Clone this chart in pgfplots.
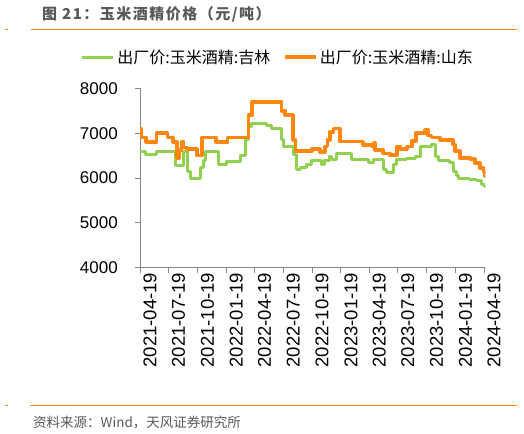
\documentclass[border=0pt]{standalone}
\usepackage{fontspec}
\setmainfont{Liberation Sans}
\newfontfamily\cjk{Noto Sans CJK SC}
\newfontfamily\cjktitle[LetterSpace=10]{Noto Sans CJK SC}
\usepackage{pgfplots}
\usepackage{pgfplotstable}
\pgfplotsset{compat=1.18}

\definecolor{jlgreen}{RGB}{146,208,80}
\definecolor{sdorange}{RGB}{255,135,15}
\definecolor{titlegray}{RGB}{89,89,89}
\definecolor{axisgray}{RGB}{134,134,134}

% day = days since 2021-04-19
\pgfplotstableread{
day price
0 6600
16 6530
53 6600
112 6280
139 6590
150 6150
160 6000
192 6230
202 6400
210 6600
250 6290
276 6360
319 6510
335 6850
345 7150
356 7220
404 7180
420 7100
451 6850
457 6700
488 6530
499 6180
510 6230
531 6300
547 6400
579 6300
589 6400
605 6490
610 6420
626 6550
674 6420
727 6340
743 6420
775 6180
784 6120
807 6300
818 6420
850 6440
879 6470
892 6700
929 6740
940 6480
950 6380
987 6350
998 6140
1008 6050
1014 5990
1051 5970
1072 5940
1088 5850
1096 5800
1100 5780
}\jilin

\pgfplotstableread{
day price
0 7100
3 6900
19 6800
53 7000
88 6900
106 6800
118 6450
125 6620
132 6800
139 6680
150 6640
182 6500
198 6900
242 6800
279 6900
345 7400
356 7700
451 7500
462 7400
488 6850
495 6600
547 6640
573 6580
589 6700
597 6850
605 7030
616 7100
637 6810
711 6740
738 6700
745 6780
749 6620
775 6550
796 6510
818 6700
828 6640
850 6700
866 6830
879 7000
908 7070
918 6950
929 6900
956 6850
998 6750
1003 6600
1019 6450
1051 6420
1067 6330
1083 6220
1094 6150
1098 6030
1100 6030
}\shandong

\begin{document}
\begin{tikzpicture}
\fill[white] (0,0) rectangle (524bp,-434bp);
\useasboundingbox (0,0) rectangle (524bp,-434bp);

% title and rules
\node[anchor=west, inner sep=0pt, text=titlegray,
      font=\cjktitle\bfseries\fontsize{15bp}{18bp}\selectfont]
  at (42bp,-14.2bp) {图 21：玉米酒精价格（元/吨）};
\draw[sdorange, line width=1.2bp] (30.5bp,-29.3bp) -- (516.7bp,-29.3bp);
\draw[sdorange, line width=1.2bp] (5bp,-29.3bp) -- (7.5bp,-29.3bp);
\draw[sdorange, line width=1.2bp] (30bp,-405.7bp) -- (516.7bp,-405.7bp);
\draw[sdorange, line width=1.2bp] (5bp,-405.7bp) -- (7.5bp,-405.7bp);
\node[anchor=west, inner sep=0pt, text=titlegray,
      font=\cjk\fontsize{13.5bp}{16bp}\selectfont]
  at (33bp,-422.7bp) {资料来源：Wind，天风证券研究所};

\begin{axis}[
    at={(140bp,-267.7bp)}, anchor=south west,
    scale only axis,
    width=345.3bp, height=179.4bp,
    xmin=0, xmax=1100,
    ymin=4000, ymax=8000,
    axis x line*=bottom, axis y line*=left,
    axis line style={axisgray, line width=0.9bp},
    tick style={axisgray, line width=0.9bp},
    tick align=outside,
    major tick length=5bp,
    xtick={0,91,183,275,365,456,548,640,730,821,913,1005,1096},
    xticklabels={2021-04-19,2021-07-19,2021-10-19,2022-01-19,2022-04-19,2022-07-19,2022-10-19,2023-01-19,2023-04-19,2023-07-19,2023-10-19,2024-01-19,2024-04-19},
    ytick={4000,5000,6000,7000,8000},
    /pgf/number format/assume math mode=true,
    /pgf/number format/1000 sep={},
    yticklabel style={font=\fontsize{17bp}{20bp}\selectfont, text=black,
        anchor=east, inner sep=0pt, xshift=-17bp},
    xticklabel style={font=\fontsize{18.5bp}{21bp}\selectfont, text=black,
        rotate=90, anchor=east, inner sep=0pt, yshift=-10bp},
    legend columns=2,
    legend style={at={(0.400,1.174)}, anchor=center, draw=none, fill=none,
        font=\cjk\fontsize{16bp}{19bp}\selectfont, text=black,
        nodes={inner xsep=2.5bp, inner ysep=0pt},
        /tikz/every even column/.append style={column sep=10bp}},
    legend image code/.code={\draw[#1] (0bp,0bp) -- (31bp,0bp);},
    const plot,
    line join=round,
]
\addplot[jlgreen, line width=3bp] table[x=day, y=price] {\jilin};
\addlegendentry{出厂价:玉米酒精:吉林}
\addplot[sdorange, line width=3.6bp] table[x=day, y=price] {\shandong};
\addlegendentry{出厂价:玉米酒精:山东}
\end{axis}
\end{tikzpicture}
\end{document}
